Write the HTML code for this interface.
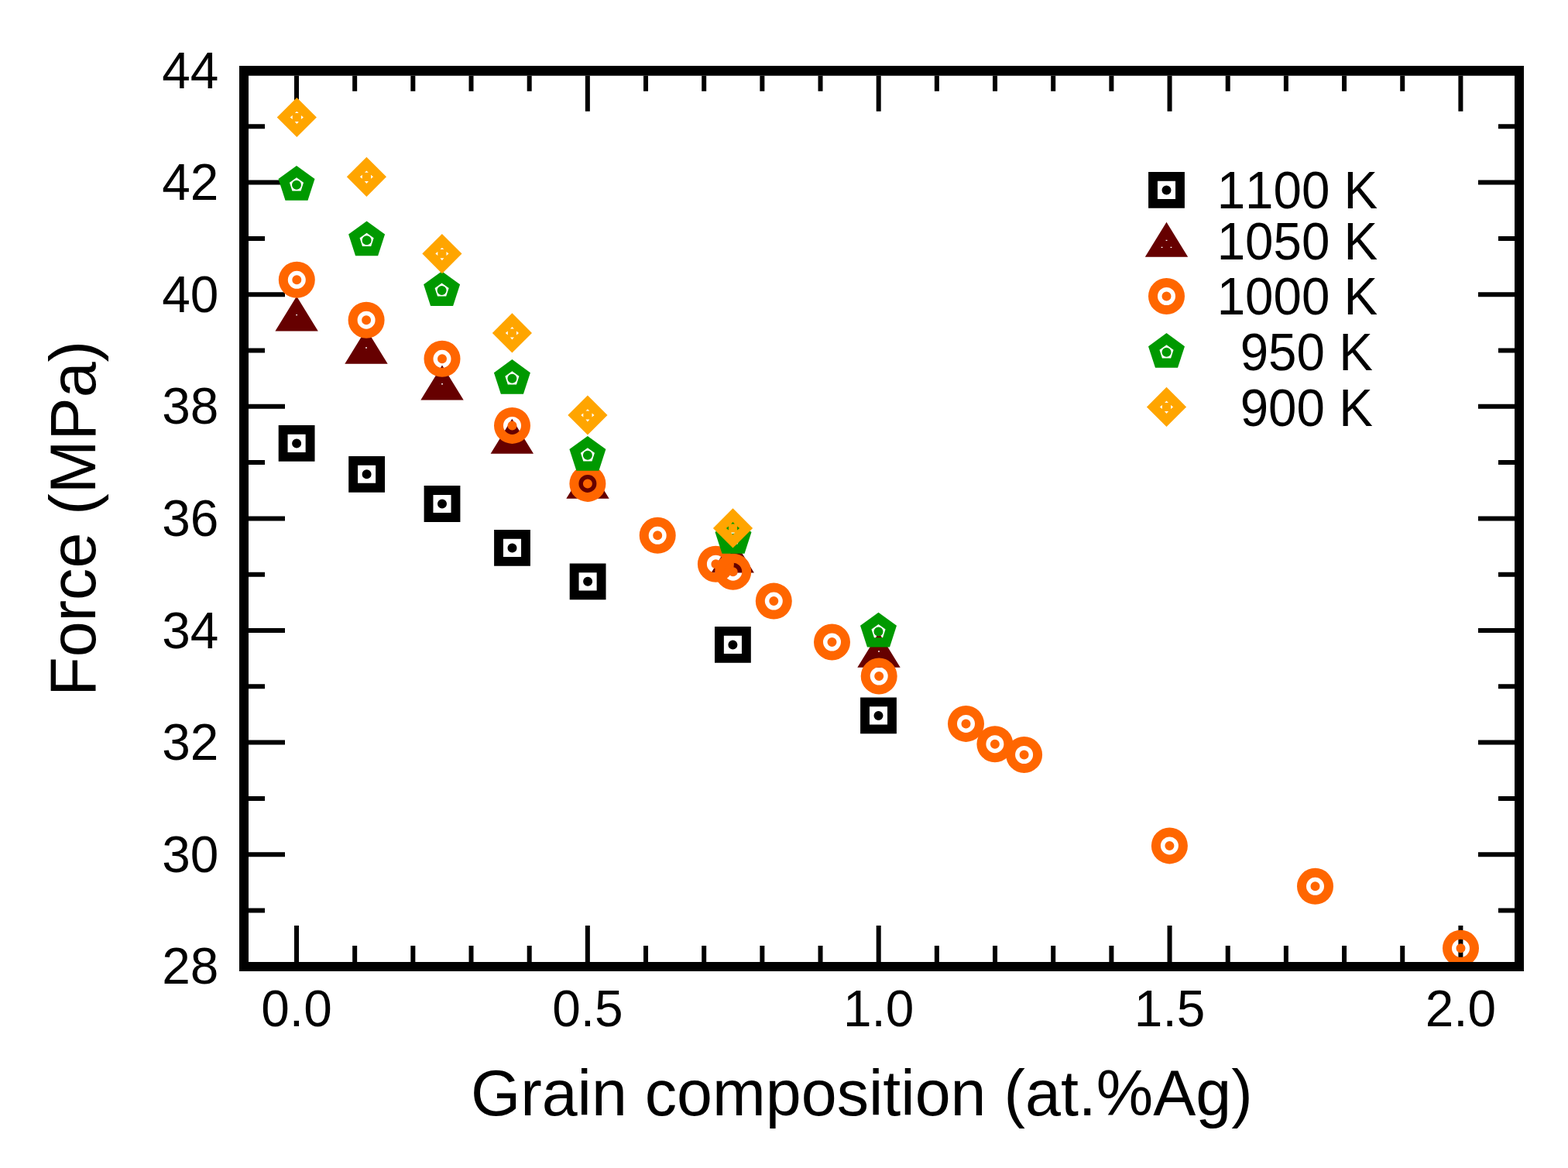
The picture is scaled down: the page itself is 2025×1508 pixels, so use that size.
<!DOCTYPE html><html><head><meta charset="utf-8"><title>Force vs Grain composition</title><style>html,body{margin:0;padding:0;background:#fff;}svg{display:block;}</style></head><body>
<svg width="2025" height="1508" viewBox="0 0 2025 1508" font-family="'Liberation Sans', Arial, Helvetica, sans-serif" style="font-kerning:none">
<rect x="0" y="0" width="2025" height="1508" fill="#fff"/>
<path d="M383.00,1242V1195M383.00,97.8V143.8M458.17,1242V1221M458.17,97.8V117.8M533.34,1242V1221M533.34,97.8V117.8M608.51,1242V1221M608.51,97.8V117.8M683.68,1242V1221M683.68,97.8V117.8M758.85,1242V1195M758.85,97.8V143.8M834.02,1242V1221M834.02,97.8V117.8M909.19,1242V1221M909.19,97.8V117.8M984.36,1242V1221M984.36,97.8V117.8M1059.53,1242V1221M1059.53,97.8V117.8M1134.70,1242V1195M1134.70,97.8V143.8M1209.87,1242V1221M1209.87,97.8V117.8M1285.04,1242V1221M1285.04,97.8V117.8M1360.21,1242V1221M1360.21,97.8V117.8M1435.38,1242V1221M1435.38,97.8V117.8M1510.55,1242V1195M1510.55,97.8V143.8M1585.72,1242V1221M1585.72,97.8V117.8M1660.89,1242V1221M1660.89,97.8V117.8M1736.06,1242V1221M1736.06,97.8V117.8M1811.23,1242V1221M1811.23,97.8V117.8M1886.40,1242V1195M1886.40,97.8V143.8M321,1247.80H368M1956,1247.80H1909M321,1175.50H342M1956,1175.50H1935M321,1103.20H368M1956,1103.20H1909M321,1030.90H342M1956,1030.90H1935M321,958.60H368M1956,958.60H1909M321,886.30H342M1956,886.30H1935M321,814.00H368M1956,814.00H1909M321,741.70H342M1956,741.70H1935M321,669.40H368M1956,669.40H1909M321,597.10H342M1956,597.10H1935M321,524.80H368M1956,524.80H1909M321,452.50H342M1956,452.50H1935M321,380.20H368M1956,380.20H1909M321,307.90H342M1956,307.90H1935M321,235.60H368M1956,235.60H1909M321,163.30H342M1956,163.30H1935M321,91.00H368M1956,91.00H1909" stroke="#000" stroke-width="6" fill="none"/>
<g><path fill-rule="evenodd" fill="#000000" d="M359.70,549.00h46.80v46.80h-46.80zM371.55,560.85h23.10v23.10h-23.10zM377.10,572.40a6.0,6.0 0 1,0 12.0,0a6.0,6.0 0 1,0 -12.0,0z"/><path fill-rule="evenodd" fill="#000000" d="M450.20,588.90h46.80v46.80h-46.80zM462.05,600.75h23.10v23.10h-23.10zM467.60,612.30a6.0,6.0 0 1,0 12.0,0a6.0,6.0 0 1,0 -12.0,0z"/><path fill-rule="evenodd" fill="#000000" d="M547.60,627.10h46.80v46.80h-46.80zM559.45,638.95h23.10v23.10h-23.10zM565.00,650.50a6.0,6.0 0 1,0 12.0,0a6.0,6.0 0 1,0 -12.0,0z"/><path fill-rule="evenodd" fill="#000000" d="M638.10,684.00h46.80v46.80h-46.80zM649.95,695.85h23.10v23.10h-23.10zM655.50,707.40a6.0,6.0 0 1,0 12.0,0a6.0,6.0 0 1,0 -12.0,0z"/><path fill-rule="evenodd" fill="#000000" d="M735.70,727.45h46.80v46.80h-46.80zM747.55,739.30h23.10v23.10h-23.10zM753.10,750.85a6.0,6.0 0 1,0 12.0,0a6.0,6.0 0 1,0 -12.0,0z"/><path fill-rule="evenodd" fill="#000000" d="M923.00,809.00h46.80v46.80h-46.80zM934.85,820.85h23.10v23.10h-23.10zM940.40,832.40a6.0,6.0 0 1,0 12.0,0a6.0,6.0 0 1,0 -12.0,0z"/><path fill-rule="evenodd" fill="#000000" d="M1111.10,900.50h46.80v46.80h-46.80zM1122.95,912.35h23.10v23.10h-23.10zM1128.50,923.90a6.0,6.0 0 1,0 12.0,0a6.0,6.0 0 1,0 -12.0,0z"/><path fill-rule="evenodd" fill="#660000" d="M383.10,382.40L410.80,427.40L355.40,427.40zM382.20,405.90h1.8v1.4h-1.8z"/><path fill-rule="evenodd" fill="#660000" d="M473.00,424.80L500.70,469.80L445.30,469.80zM472.10,448.30h1.8v1.4h-1.8z"/><path fill-rule="evenodd" fill="#660000" d="M571.00,471.50L598.70,516.50L543.30,516.50zM570.10,495.00h1.8v1.4h-1.8z"/><path fill-rule="evenodd" fill="#660000" d="M661.30,540.70L689.00,585.70L633.60,585.70zM660.40,564.20h1.8v1.4h-1.8z"/><path fill-rule="evenodd" fill="#660000" d="M759.00,598.80L786.70,643.80L731.30,643.80zM758.10,622.30h1.8v1.4h-1.8z"/><path fill-rule="evenodd" fill="#660000" d="M946.20,694.60L973.90,739.60L918.50,739.60zM945.30,718.10h1.8v1.4h-1.8z"/><path fill-rule="evenodd" fill="#660000" d="M1135.00,816.80L1162.70,861.80L1107.30,861.80zM1134.10,840.30h1.8v1.4h-1.8z"/><path fill-rule="evenodd" fill="#ff6600" d="M359.80,361.30a23.5,23.5 0 1,0 47.0,0a23.5,23.5 0 1,0 -47.0,0zM371.80,361.30a11.5,11.5 0 1,0 23.0,0a11.5,11.5 0 1,0 -23.0,0zM377.30,361.30a6.0,6.0 0 1,0 12.0,0a6.0,6.0 0 1,0 -12.0,0z"/><path fill-rule="evenodd" fill="#ff6600" d="M449.60,413.20a23.5,23.5 0 1,0 47.0,0a23.5,23.5 0 1,0 -47.0,0zM461.60,413.20a11.5,11.5 0 1,0 23.0,0a11.5,11.5 0 1,0 -23.0,0zM467.10,413.20a6.0,6.0 0 1,0 12.0,0a6.0,6.0 0 1,0 -12.0,0z"/><path fill-rule="evenodd" fill="#ff6600" d="M547.50,463.30a23.5,23.5 0 1,0 47.0,0a23.5,23.5 0 1,0 -47.0,0zM559.50,463.30a11.5,11.5 0 1,0 23.0,0a11.5,11.5 0 1,0 -23.0,0zM565.00,463.30a6.0,6.0 0 1,0 12.0,0a6.0,6.0 0 1,0 -12.0,0z"/><path fill-rule="evenodd" fill="#ff6600" d="M638.00,549.40a23.5,23.5 0 1,0 47.0,0a23.5,23.5 0 1,0 -47.0,0zM650.00,549.40a11.5,11.5 0 1,0 23.0,0a11.5,11.5 0 1,0 -23.0,0zM655.50,549.40a6.0,6.0 0 1,0 12.0,0a6.0,6.0 0 1,0 -12.0,0z"/><path fill-rule="evenodd" fill="#ff6600" d="M735.40,624.40a23.5,23.5 0 1,0 47.0,0a23.5,23.5 0 1,0 -47.0,0zM747.40,624.40a11.5,11.5 0 1,0 23.0,0a11.5,11.5 0 1,0 -23.0,0zM752.90,624.40a6.0,6.0 0 1,0 12.0,0a6.0,6.0 0 1,0 -12.0,0z"/><path fill-rule="evenodd" fill="#ff6600" d="M825.70,691.30a23.5,23.5 0 1,0 47.0,0a23.5,23.5 0 1,0 -47.0,0zM837.70,691.30a11.5,11.5 0 1,0 23.0,0a11.5,11.5 0 1,0 -23.0,0zM843.20,691.30a6.0,6.0 0 1,0 12.0,0a6.0,6.0 0 1,0 -12.0,0z"/><path fill-rule="evenodd" fill="#ff6600" d="M900.90,728.20a23.5,23.5 0 1,0 47.0,0a23.5,23.5 0 1,0 -47.0,0zM912.90,728.20a11.5,11.5 0 1,0 23.0,0a11.5,11.5 0 1,0 -23.0,0zM918.40,728.20a6.0,6.0 0 1,0 12.0,0a6.0,6.0 0 1,0 -12.0,0z"/><path fill-rule="evenodd" fill="#ff6600" d="M923.20,738.20a23.5,23.5 0 1,0 47.0,0a23.5,23.5 0 1,0 -47.0,0zM935.20,738.20a11.5,11.5 0 1,0 23.0,0a11.5,11.5 0 1,0 -23.0,0zM940.70,738.20a6.0,6.0 0 1,0 12.0,0a6.0,6.0 0 1,0 -12.0,0z"/><path fill-rule="evenodd" fill="#ff6600" d="M975.80,776.10a23.5,23.5 0 1,0 47.0,0a23.5,23.5 0 1,0 -47.0,0zM987.80,776.10a11.5,11.5 0 1,0 23.0,0a11.5,11.5 0 1,0 -23.0,0zM993.30,776.10a6.0,6.0 0 1,0 12.0,0a6.0,6.0 0 1,0 -12.0,0z"/><path fill-rule="evenodd" fill="#ff6600" d="M1051.00,829.00a23.5,23.5 0 1,0 47.0,0a23.5,23.5 0 1,0 -47.0,0zM1063.00,829.00a11.5,11.5 0 1,0 23.0,0a11.5,11.5 0 1,0 -23.0,0zM1068.50,829.00a6.0,6.0 0 1,0 12.0,0a6.0,6.0 0 1,0 -12.0,0z"/><path fill-rule="evenodd" fill="#ff6600" d="M1111.70,873.00a23.5,23.5 0 1,0 47.0,0a23.5,23.5 0 1,0 -47.0,0zM1123.70,873.00a11.5,11.5 0 1,0 23.0,0a11.5,11.5 0 1,0 -23.0,0zM1129.20,873.00a6.0,6.0 0 1,0 12.0,0a6.0,6.0 0 1,0 -12.0,0z"/><path fill-rule="evenodd" fill="#ff6600" d="M1224.00,934.40a23.5,23.5 0 1,0 47.0,0a23.5,23.5 0 1,0 -47.0,0zM1236.00,934.40a11.5,11.5 0 1,0 23.0,0a11.5,11.5 0 1,0 -23.0,0zM1241.50,934.40a6.0,6.0 0 1,0 12.0,0a6.0,6.0 0 1,0 -12.0,0z"/><path fill-rule="evenodd" fill="#ff6600" d="M1261.40,960.70a23.5,23.5 0 1,0 47.0,0a23.5,23.5 0 1,0 -47.0,0zM1273.40,960.70a11.5,11.5 0 1,0 23.0,0a11.5,11.5 0 1,0 -23.0,0zM1278.90,960.70a6.0,6.0 0 1,0 12.0,0a6.0,6.0 0 1,0 -12.0,0z"/><path fill-rule="evenodd" fill="#ff6600" d="M1299.10,974.50a23.5,23.5 0 1,0 47.0,0a23.5,23.5 0 1,0 -47.0,0zM1311.10,974.50a11.5,11.5 0 1,0 23.0,0a11.5,11.5 0 1,0 -23.0,0zM1316.60,974.50a6.0,6.0 0 1,0 12.0,0a6.0,6.0 0 1,0 -12.0,0z"/><path fill-rule="evenodd" fill="#ff6600" d="M1486.90,1091.90a23.5,23.5 0 1,0 47.0,0a23.5,23.5 0 1,0 -47.0,0zM1498.90,1091.90a11.5,11.5 0 1,0 23.0,0a11.5,11.5 0 1,0 -23.0,0zM1504.40,1091.90a6.0,6.0 0 1,0 12.0,0a6.0,6.0 0 1,0 -12.0,0z"/><path fill-rule="evenodd" fill="#ff6600" d="M1675.00,1144.30a23.5,23.5 0 1,0 47.0,0a23.5,23.5 0 1,0 -47.0,0zM1687.00,1144.30a11.5,11.5 0 1,0 23.0,0a11.5,11.5 0 1,0 -23.0,0zM1692.50,1144.30a6.0,6.0 0 1,0 12.0,0a6.0,6.0 0 1,0 -12.0,0z"/><path fill-rule="evenodd" fill="#ff6600" d="M1863.00,1224.30a23.5,23.5 0 1,0 47.0,0a23.5,23.5 0 1,0 -47.0,0zM1875.00,1224.30a11.5,11.5 0 1,0 23.0,0a11.5,11.5 0 1,0 -23.0,0zM1880.50,1224.30a6.0,6.0 0 1,0 12.0,0a6.0,6.0 0 1,0 -12.0,0z"/><path fill-rule="evenodd" fill="#009900" d="M383.00,214.00L406.49,231.07L397.52,258.68L368.48,258.68L359.51,231.07zM383.00,229.20L392.04,235.76L388.58,246.39L377.42,246.39L373.96,235.76zM377.00,238.70a6.0,6.0 0 1,0 12.0,0a6.0,6.0 0 1,0 -12.0,0z"/><path fill-rule="evenodd" fill="#009900" d="M473.60,285.50L497.09,302.57L488.12,330.18L459.08,330.18L450.11,302.57zM473.60,300.70L482.64,307.26L479.18,317.89L468.02,317.89L464.56,307.26zM467.60,310.20a6.0,6.0 0 1,0 12.0,0a6.0,6.0 0 1,0 -12.0,0z"/><path fill-rule="evenodd" fill="#009900" d="M570.60,350.20L594.09,367.27L585.12,394.88L556.08,394.88L547.11,367.27zM570.60,365.40L579.64,371.96L576.18,382.59L565.02,382.59L561.56,371.96zM564.60,374.90a6.0,6.0 0 1,0 12.0,0a6.0,6.0 0 1,0 -12.0,0z"/><path fill-rule="evenodd" fill="#009900" d="M661.40,464.10L684.89,481.17L675.92,508.78L646.88,508.78L637.91,481.17zM661.40,479.30L670.44,485.86L666.98,496.49L655.82,496.49L652.36,485.86zM655.40,488.80a6.0,6.0 0 1,0 12.0,0a6.0,6.0 0 1,0 -12.0,0z"/><path fill-rule="evenodd" fill="#009900" d="M758.90,563.00L782.39,580.07L773.42,607.68L744.38,607.68L735.41,580.07zM758.90,578.20L767.94,584.76L764.48,595.39L753.32,595.39L749.86,584.76zM752.90,587.70a6.0,6.0 0 1,0 12.0,0a6.0,6.0 0 1,0 -12.0,0z"/><path fill-rule="evenodd" fill="#009900" d="M947.00,670.00L970.49,687.07L961.52,714.68L932.48,714.68L923.51,687.07zM947.00,685.20L956.04,691.76L952.58,702.39L941.42,702.39L937.96,691.76zM941.00,694.70a6.0,6.0 0 1,0 12.0,0a6.0,6.0 0 1,0 -12.0,0z"/><path fill-rule="evenodd" fill="#009900" d="M1134.50,790.80L1157.99,807.87L1149.02,835.48L1119.98,835.48L1111.01,807.87zM1134.50,806.00L1143.54,812.56L1140.08,823.19L1128.92,823.19L1125.46,812.56zM1128.50,815.50a6.0,6.0 0 1,0 12.0,0a6.0,6.0 0 1,0 -12.0,0z"/><path fill-rule="evenodd" fill="#ffa500" d="M383.30,125.90L408.90,151.50L383.30,177.10L357.70,151.50zM383.30,143.70L385.70,146.00L380.90,146.00zM383.30,160.10L380.80,157.10L385.80,157.10zM374.70,151.50L377.70,154.00L377.70,149.00zM391.90,151.50L388.90,149.00L388.90,154.00z"/><path fill-rule="evenodd" fill="#ffa500" d="M473.40,202.70L499.00,228.30L473.40,253.90L447.80,228.30zM473.40,220.50L475.80,222.80L471.00,222.80zM473.40,236.90L470.90,233.90L475.90,233.90zM464.80,228.30L467.80,230.80L467.80,225.80zM482.00,228.30L479.00,225.80L479.00,230.80z"/><path fill-rule="evenodd" fill="#ffa500" d="M570.90,302.00L596.50,327.60L570.90,353.20L545.30,327.60zM570.90,319.80L573.30,322.10L568.50,322.10zM570.90,336.20L568.40,333.20L573.40,333.20zM562.30,327.60L565.30,330.10L565.30,325.10zM579.50,327.60L576.50,325.10L576.50,330.10z"/><path fill-rule="evenodd" fill="#ffa500" d="M661.40,404.30L687.00,429.90L661.40,455.50L635.80,429.90zM661.40,422.10L663.80,424.40L659.00,424.40zM661.40,438.50L658.90,435.50L663.90,435.50zM652.80,429.90L655.80,432.40L655.80,427.40zM670.00,429.90L667.00,427.40L667.00,432.40z"/><path fill-rule="evenodd" fill="#ffa500" d="M758.90,510.40L784.50,536.00L758.90,561.60L733.30,536.00zM758.90,528.20L761.30,530.50L756.50,530.50zM758.90,544.60L756.40,541.60L761.40,541.60zM750.30,536.00L753.30,538.50L753.30,533.50zM767.50,536.00L764.50,533.50L764.50,538.50z"/><path fill-rule="evenodd" fill="#ffa500" d="M946.50,656.30L972.10,681.90L946.50,707.50L920.90,681.90zM946.50,674.10L948.90,676.40L944.10,676.40zM946.50,690.50L944.00,687.50L949.00,687.50zM937.90,681.90L940.90,684.40L940.90,679.40zM955.10,681.90L952.10,679.40L952.10,684.40z"/></g>
<path fill-rule="evenodd" fill="#000" d="M309,85H1968V1254H309zM321,97.8V1242H1956V97.8z"/>
<text transform="translate(282.40,1270.40) scale(1,1.025)" font-size="65.8" text-anchor="end">28</text>
<text transform="translate(282.40,1125.80) scale(1,1.025)" font-size="65.8" text-anchor="end">30</text>
<text transform="translate(282.40,981.20) scale(1,1.025)" font-size="65.8" text-anchor="end">32</text>
<text transform="translate(282.40,836.60) scale(1,1.025)" font-size="65.8" text-anchor="end">34</text>
<text transform="translate(282.40,692.00) scale(1,1.025)" font-size="65.8" text-anchor="end">36</text>
<text transform="translate(282.40,547.40) scale(1,1.025)" font-size="65.8" text-anchor="end">38</text>
<text transform="translate(282.40,402.80) scale(1,1.025)" font-size="65.8" text-anchor="end">40</text>
<text transform="translate(282.40,258.20) scale(1,1.025)" font-size="65.8" text-anchor="end">42</text>
<text transform="translate(282.40,113.60) scale(1,1.025)" font-size="65.8" text-anchor="end">44</text>
<text transform="translate(383.00,1325.00) scale(1,1.025)" font-size="65.8" text-anchor="middle">0.0</text>
<text transform="translate(758.85,1325.00) scale(1,1.025)" font-size="65.8" text-anchor="middle">0.5</text>
<text transform="translate(1134.70,1325.00) scale(1,1.025)" font-size="65.8" text-anchor="middle">1.0</text>
<text transform="translate(1510.55,1325.00) scale(1,1.025)" font-size="65.8" text-anchor="middle">1.5</text>
<text transform="translate(1886.40,1325.00) scale(1,1.025)" font-size="65.8" text-anchor="middle">2.0</text>
<g><path fill-rule="evenodd" fill="#000000" d="M1483.10,222.00h46.80v46.80h-46.80zM1494.95,233.85h23.10v23.10h-23.10zM1500.50,245.40a6.0,6.0 0 1,0 12.0,0a6.0,6.0 0 1,0 -12.0,0z"/><path fill-rule="evenodd" fill="#660000" d="M1506.50,286.80L1534.20,331.80L1478.80,331.80zM1505.60,309.70h1.8v1.4h-1.8zM1499.65,318.70h1.8v1.4h-1.8zM1511.55,318.70h1.8v1.4h-1.8z"/><path fill-rule="evenodd" fill="#ff6600" d="M1483.00,382.50a23.5,23.5 0 1,0 47.0,0a23.5,23.5 0 1,0 -47.0,0zM1495.00,382.50a11.5,11.5 0 1,0 23.0,0a11.5,11.5 0 1,0 -23.0,0zM1500.50,382.50a6.0,6.0 0 1,0 12.0,0a6.0,6.0 0 1,0 -12.0,0z"/><path fill-rule="evenodd" fill="#009900" d="M1506.50,430.10L1529.99,447.17L1521.02,474.78L1491.98,474.78L1483.01,447.17zM1506.50,445.30L1515.54,451.86L1512.08,462.49L1500.92,462.49L1497.46,451.86zM1500.50,454.80a6.0,6.0 0 1,0 12.0,0a6.0,6.0 0 1,0 -12.0,0z"/><path fill-rule="evenodd" fill="#ffa500" d="M1506.50,499.80L1532.10,525.40L1506.50,551.00L1480.90,525.40zM1506.50,517.60L1508.90,519.90L1504.10,519.90zM1506.50,534.00L1504.00,531.00L1509.00,531.00zM1497.90,525.40L1500.90,527.90L1500.90,522.90zM1515.10,525.40L1512.10,522.90L1512.10,527.90z"/></g>
<text transform="translate(1571.70,268.70) scale(1,1.05)" font-size="65.5" text-anchor="start">1100 K</text>
<text transform="translate(1571.70,334.80) scale(1,1.05)" font-size="65.5" text-anchor="start">1050 K</text>
<text transform="translate(1571.70,405.70) scale(1,1.05)" font-size="65.5" text-anchor="start">1000 K</text>
<text transform="translate(1601.70,477.60) scale(1,1.05)" font-size="65.5" text-anchor="start">950 K</text>
<text transform="translate(1601.70,549.70) scale(1,1.05)" font-size="65.5" text-anchor="start">900 K</text>
<text transform="translate(607.90,1440.00) scale(1,1.02)" font-size="82.6" text-anchor="start">Grain composition (at.%Ag)</text>
<text transform="translate(123,898.8) rotate(-90) scale(1,1.02)" font-size="82.6">Force (MPa)</text>
</svg></body></html>
